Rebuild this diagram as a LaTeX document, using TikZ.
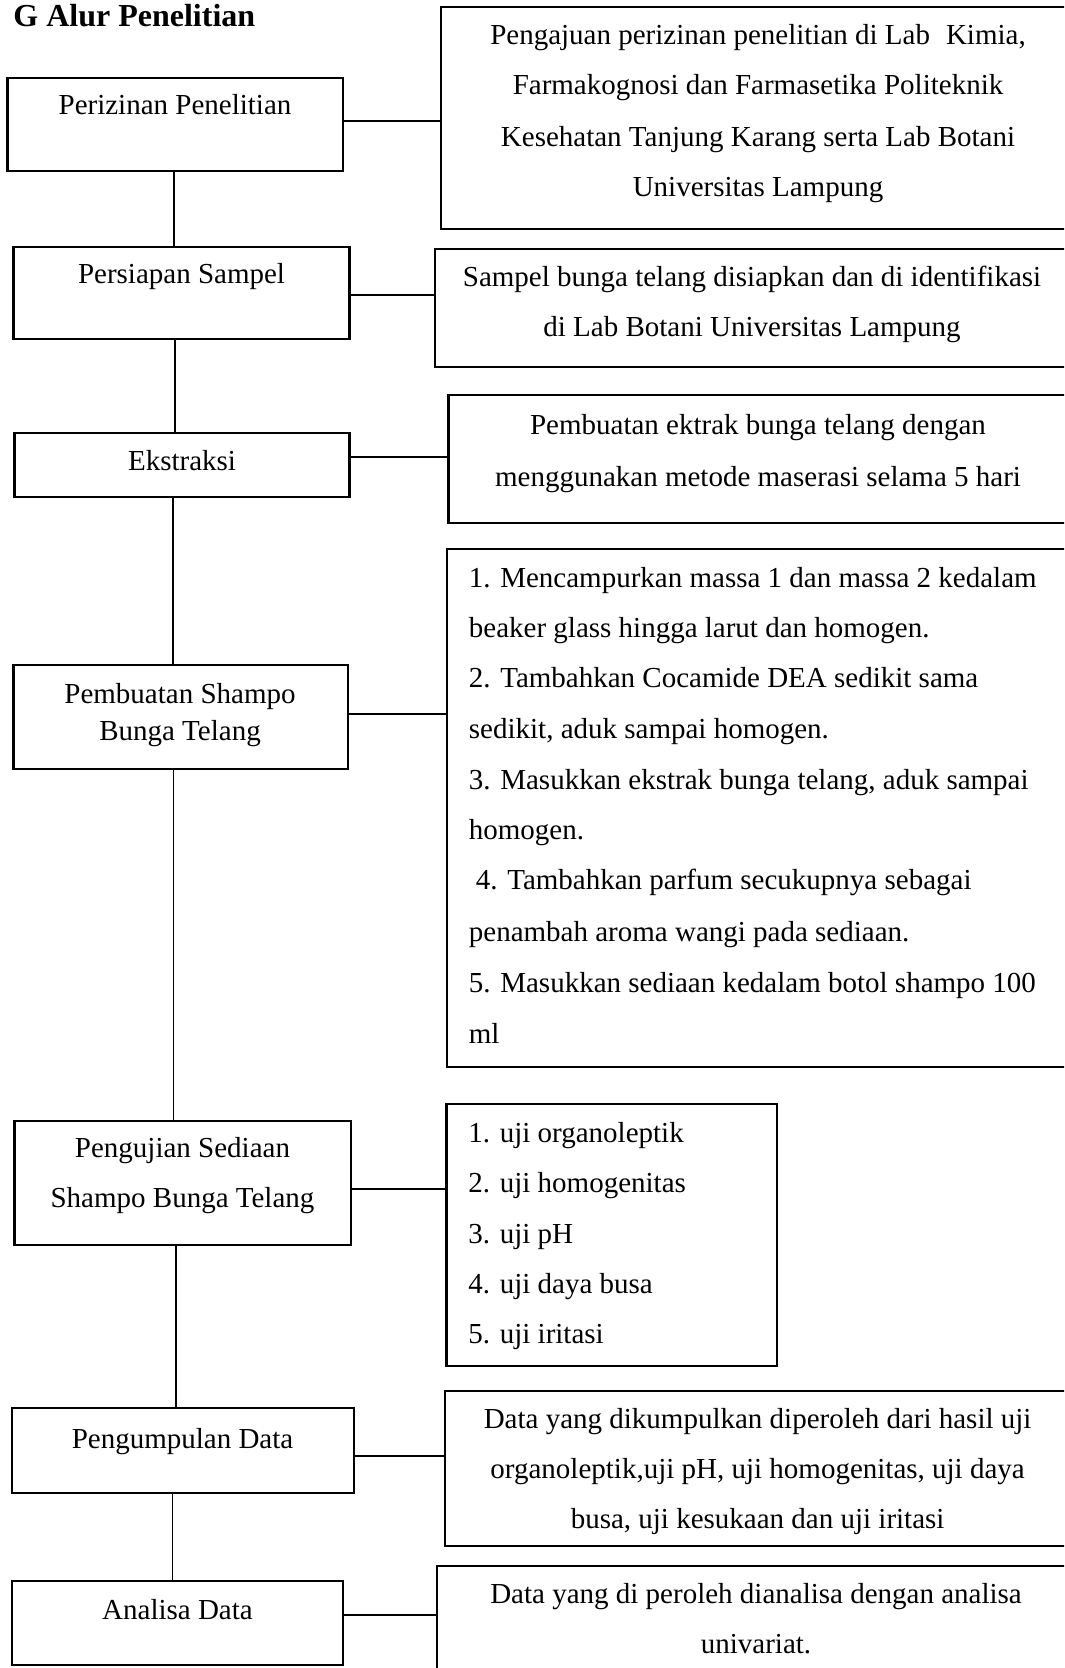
\documentclass[tikz,border=0pt]{standalone}
\usepackage{fontspec}
\setmainfont{Liberation Serif}
\usetikzlibrary{fit}
\tikzset{
  box/.style={draw=black, line width=1.25pt, inner sep=0pt},
  conn/.style={draw=black, line width=0.65pt},
  txt/.style={inner sep=0pt, font=\fontsize{14.5}{18}\selectfont, anchor=base},
  ltxt/.style={txt, anchor=base west},
  title/.style={inner sep=0pt, font=\fontsize{16}{19}\selectfont\bfseries, anchor=base west},
}
\begin{document}
\begin{tikzpicture}[x=0.5pt,y=-0.5pt]
\clip (0,0) rectangle (1064,1668);
\fill[white] (0,0) rectangle (1064,1668);

\node[title] (title) at (13,27) {G Alur Penelitian};

% left boxes
\node[box, fit={(7.5,78) (343,171)}] (L1) {};
\node[box, fit={(13.5,247) (349.5,339)}] (L2) {};
\node[box, fit={(14.5,433) (349.5,497)}] (L3) {};
\node[box, fit={(13.5,665) (348,769)}] (L4) {};
\node[box, fit={(14.3,1121) (351,1245)}] (L5) {};
\node[box, fit={(12,1408) (354,1493)}] (L6) {};
\node[box, fit={(12,1581) (343,1665)}] (L7) {};

\node[txt] (L1t) at (175,115) {Perizinan Penelitian};
\node[txt] (L2t) at (181.5,284) {Persiapan Sampel};
\node[txt] (L3t) at (182,470) {Ekstraksi};
\node[txt] (L4ta) at (180,703) {Pembuatan Shampo};
\node[txt] (L4tb) at (180,740) {Bunga Telang};
\node[txt] (L5ta) at (182.5,1157) {Pengujian Sediaan};
\node[txt] (L5tb) at (182.5,1207) {Shampo Bunga Telang};
\node[txt] (L6t) at (182.5,1448) {Pengumpulan Data};
\node[txt] (L7t) at (177.5,1619) {Analisa Data};

% right boxes
\node[box, fit={(441,7) (1075,229)}] (R1) {};
\node[box, fit={(435,249) (1069,367)}] (R2) {};
\node[box, fit={(448.6,395) (1068,523)}] (R3) {};
\node[box, fit={(447,549) (1070,1067)}] (R4) {};
\node[box, fit={(446.4,1104) (777,1366)}] (R5) {};
\node[box, fit={(445,1391) (1070,1546)}] (R6) {};
\node[box, fit={(437,1566) (1075,1700)}] (R7) {};

\node[txt] (R1a) at (758,45) {Pengajuan perizinan penelitian di Lab\hspace{8pt}Kimia,};
\node[txt] (R1b) at (758,95) {Farmakognosi dan Farmasetika Politeknik};
\node[txt] (R1c) at (758,147) {Kesehatan Tanjung Karang serta Lab Botani};
\node[txt] (R1d) at (758,197) {Universitas Lampung};

\node[txt] (R2a) at (752,287) {Sampel bunga telang disiapkan dan di identifikasi};
\node[txt] (R2b) at (752,337) {di Lab Botani Universitas Lampung};

\node[txt] (R3a) at (758,435) {Pembuatan ektrak bunga telang dengan};
\node[txt] (R3b) at (758,486) {menggunakan metode maserasi selama 5 hari};

\node[ltxt] (R4a) at (468.5,587) {1. Mencampurkan massa 1 dan massa 2 kedalam};
\node[ltxt] (R4b) at (468.5,637) {beaker glass hingga larut dan homogen.};
\node[ltxt] (R4c) at (468.5,687) {2. Tambahkan Cocamide DEA sedikit sama};
\node[ltxt] (R4d) at (468.5,738) {sedikit, aduk sampai homogen.};
\node[ltxt] (R4e) at (468.5,789) {3. Masukkan ekstrak bunga telang, aduk sampai};
\node[ltxt] (R4f) at (468.5,839) {homogen.};
\node[ltxt] (R4g) at (468.5,889) {\hspace*{3.5pt}4. Tambahkan parfum secukupnya sebagai};
\node[ltxt] (R4h) at (468.5,941) {penambah aroma wangi pada sediaan.};
\node[ltxt] (R4i) at (468.5,992) {5. Masukkan sediaan kedalam botol shampo 100};
\node[ltxt] (R4j) at (468.5,1043) {ml};

\node[ltxt] (R5a) at (468,1142) {1. uji organoleptik};
\node[ltxt] (R5b) at (468,1192) {2. uji homogenitas};
\node[ltxt] (R5c) at (468,1243) {3. uji pH};
\node[ltxt] (R5d) at (468,1293) {4. uji daya busa};
\node[ltxt] (R5e) at (468,1343) {5. uji iritasi};

\node[txt] (R6a) at (757.6,1428) {Data yang dikumpulkan diperoleh dari hasil uji};
\node[txt] (R6b) at (757.6,1478) {organoleptik,uji pH, uji homogenitas, uji daya};
\node[txt] (R6c) at (757.6,1528) {busa, uji kesukaan dan uji iritasi};

\node[txt] (R7a) at (756,1603) {Data yang di peroleh dianalisa dengan analisa};
\node[txt] (R7b) at (756,1653) {univariat.};

% horizontal connectors
\draw[conn] (L1.east |- 0,121) -- (R1.west |- 0,121);
\draw[conn] (L2.east |- 0,295) -- (R2.west |- 0,295);
\draw[conn] (L3.east |- 0,457) -- (R3.west |- 0,457);
\draw[conn] (L4.east |- 0,714) -- (R4.west |- 0,714);
\draw[conn] (L5.east |- 0,1189) -- (R5.west |- 0,1189);
\draw[conn] (L6.east |- 0,1456) -- (R6.west |- 0,1456);
\draw[conn] (L7.east |- 0,1615) -- (R7.west |- 0,1615);

% vertical connectors
\draw[conn] (174,0 |- L1.south) -- (174,0 |- L2.north);
\draw[conn] (175,0 |- L2.south) -- (175,0 |- L3.north);
\draw[conn] (173,0 |- L3.south) -- (173,0 |- L4.north);
\draw[conn] (173.5,0 |- L4.south) -- (173.5,0 |- L5.north);
\draw[conn] (176,0 |- L5.south) -- (176,0 |- L6.north);
\draw[conn] (172.5,0 |- L6.south) -- (172.5,0 |- L7.north);
\end{tikzpicture}
\end{document}
